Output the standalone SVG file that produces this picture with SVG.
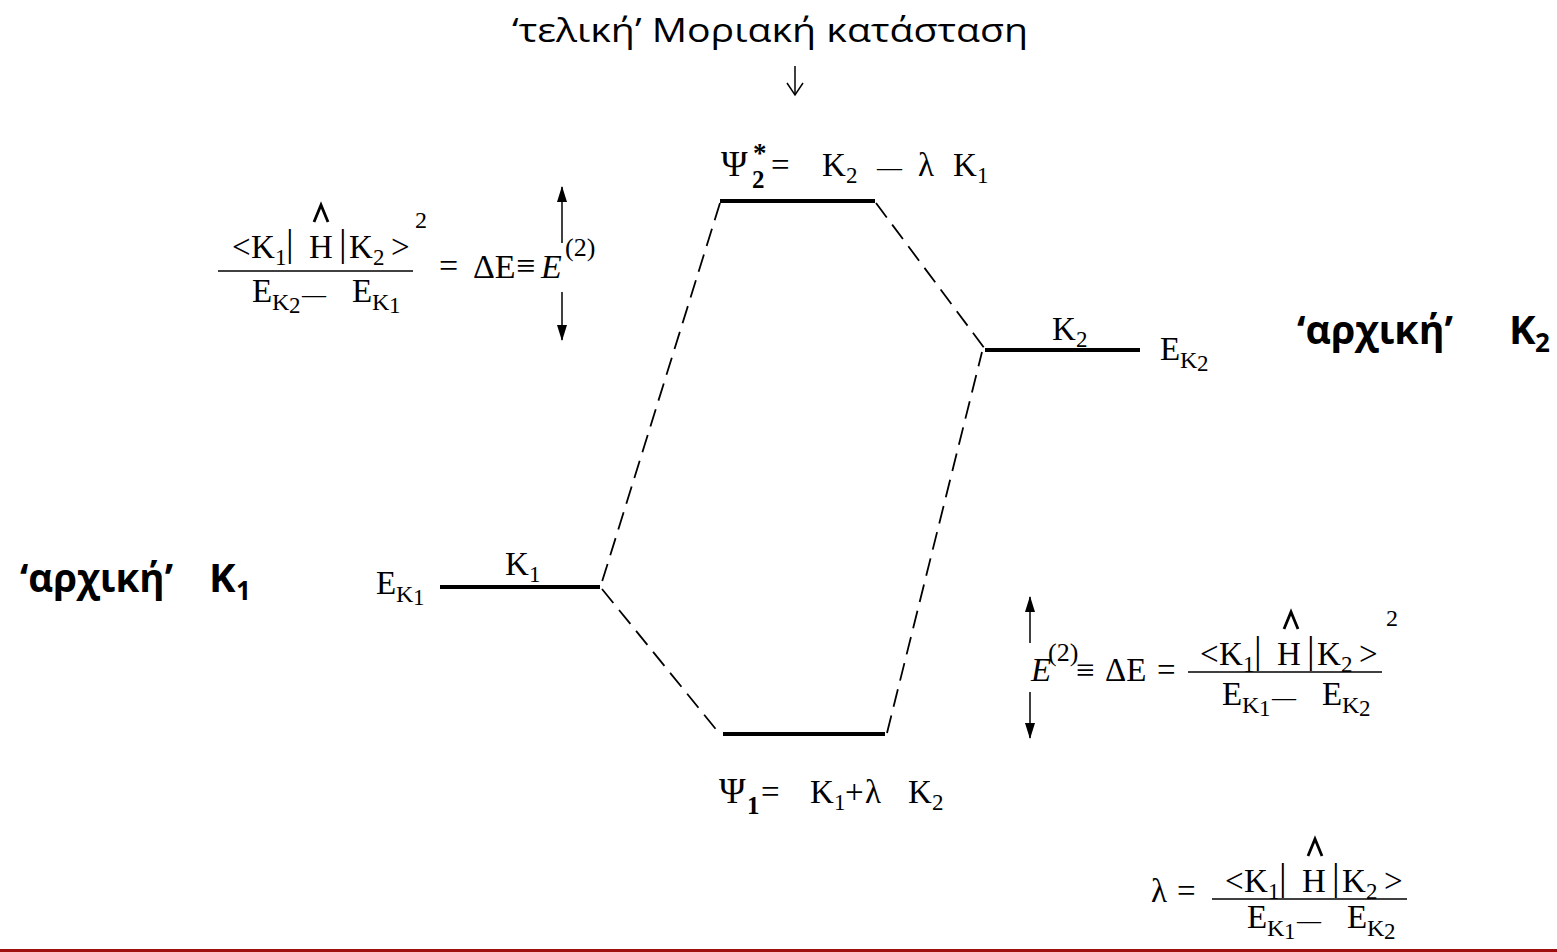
<svg xmlns="http://www.w3.org/2000/svg" width="1557" height="952" viewBox="0 0 1557 952">
<defs>
<style>
.m{font-family:"Liberation Serif","Times New Roman",serif;font-size:33px;fill:#000}
.s{font-size:24px}
.d{font-size:23px}
.bar{font-size:38px}
.b{font-weight:bold}
.it{font-style:italic}
.lab{font-family:"Open Sans","Noto Sans",sans-serif;fill:#000}
.big{font-size:40px;font-weight:bold}
.lev{stroke:#000;stroke-width:4;fill:none}
.dash{stroke:#000;stroke-width:1.8;stroke-dasharray:18 9;fill:none}
.ar{stroke:#000;stroke-width:1.5;fill:none}
.hat{stroke:#000;stroke-width:2.8;fill:none;stroke-linejoin:miter}
.fb{stroke:#000;stroke-width:1.5}
</style>
<marker id="ah" viewBox="0 0 16 10" refX="15" refY="5" markerWidth="16" markerHeight="10" markerUnits="userSpaceOnUse" orient="auto">
<path d="M0,0 L16,5 L0,10 z" fill="#000"/>
</marker>
</defs>
<rect width="1557" height="952" fill="#fff"/>

<g id="title">
<text class="lab" x="512" y="42" style="font-size:32px" textLength="516" lengthAdjust="spacingAndGlyphs">‘τελική’ Μοριακή κατάσταση</text>
</g>

<g id="connectors">
<line class="dash" x1="720" y1="203" x2="601" y2="585"/>
<line class="dash" x1="876" y1="203" x2="985" y2="349"/>
<line class="dash" x1="602" y1="589" x2="719" y2="733"/>
<line class="dash" x1="887" y1="733" x2="982" y2="352"/>
<line class="ar" x1="795" y1="66" x2="795" y2="94"/>
<polyline class="ar" points="787,83 795,95 803,83"/>
<line class="ar" x1="562" y1="243" x2="562" y2="187" marker-end="url(#ah)"/>
<line class="ar" x1="562" y1="292" x2="562" y2="340" marker-end="url(#ah)"/>
<line class="ar" x1="1030" y1="643" x2="1030" y2="597" marker-end="url(#ah)"/>
<line class="ar" x1="1030" y1="692" x2="1030" y2="738" marker-end="url(#ah)"/>
</g>

<g id="level-psi2">
<line class="lev" x1="720" y1="201" x2="875" y2="201"/>
<text class="m" x="721" y="176" style="font-size:36px">Ψ</text>
<text class="m b" x="753" y="162" style="font-size:27px">*</text>
<text class="m b" x="752" y="188" style="font-size:25px">2</text>
<text class="m" x="771" y="176">=</text>
<text class="m" x="822" y="176">K</text>
<text class="m d" x="846" y="183">2</text>
<text class="m" x="877" y="176" style="font-size:25px">—</text>
<text class="m" x="918" y="176">λ</text>
<text class="m" x="953" y="176">K</text>
<text class="m d" x="977" y="183">1</text>
</g>

<g id="level-k2">
<line class="lev" x1="985" y1="350" x2="1140" y2="350"/>
<text class="m" x="1052" y="340">K</text>
<text class="m d" x="1076" y="347">2</text>
<text class="m" x="1160" y="360">E</text>
<text class="m s" x="1180" y="368">K</text>
<text class="m d" x="1197" y="371">2</text>
</g>

<g id="label-k2">
<text class="lab big" x="1297" y="344" textLength="156" lengthAdjust="spacingAndGlyphs">‘αρχική’</text>
<text class="lab big" x="1509" y="344">K</text>
<text class="lab" x="1535" y="352" style="font-size:26px;font-weight:bold">2</text>
</g>

<g id="level-k1">
<line class="lev" x1="440" y1="587" x2="600" y2="587"/>
<text class="m" x="505" y="575">K</text>
<text class="m d" x="529" y="582">1</text>
<text class="m" x="376" y="594">E</text>
<text class="m s" x="396" y="602">K</text>
<text class="m d" x="413" y="605">1</text>
</g>

<g id="label-k1">
<text class="lab big" x="20" y="592" textLength="153" lengthAdjust="spacingAndGlyphs">‘αρχική’</text>
<text class="lab big" x="209" y="592">K</text>
<text class="lab" x="236" y="600" style="font-size:26px;font-weight:bold">1</text>
</g>

<g id="level-psi1">
<line class="lev" x1="723" y1="734" x2="885" y2="734"/>
<text class="m" x="719" y="803" style="font-size:36px">Ψ</text>
<text class="m b" x="747" y="814" style="font-size:25px">1</text>
<text class="m" x="761" y="803">=</text>
<text class="m" x="810" y="803">K</text>
<text class="m d" x="834" y="810">1</text>
<text class="m" x="845" y="803">+</text>
<text class="m" x="865" y="803">λ</text>
<text class="m" x="908" y="803">K</text>
<text class="m d" x="932" y="810">2</text>
</g>

<g id="formula-left">
<g transform="translate(232,258)">
<text class="m" x="0" y="0">&lt;</text>
<text class="m" x="19" y="0">K</text>
<text class="m d" x="43" y="7">1</text>
<text class="m bar" x="54" y="-2">|</text>
<text class="m" x="77" y="0">H</text>
<polyline class="hat" points="82,-36 89,-53 96,-36"/>
<text class="m bar" x="107" y="-2">|</text>
<text class="m" x="117" y="0">K</text>
<text class="m d" x="141" y="7">2</text>
<text class="m" x="159" y="0">&gt;</text>
<text class="m d" x="183" y="-30" style="font-size:24px">2</text>
</g>
<line class="fb" x1="218" y1="271" x2="413" y2="271"/>
<g transform="translate(252,302)">
<text class="m" x="0" y="0">E</text>
<text class="m s" x="20" y="8">K</text>
<text class="m d" x="37" y="11">2</text>
<text class="m" x="50" y="0" style="font-size:24px">—</text>
<text class="m" x="100" y="0">E</text>
<text class="m s" x="120" y="8">K</text>
<text class="m d" x="137" y="11">1</text>
</g>
<text class="m" x="439" y="277" style="font-size:34px">=</text>
<text class="m" x="473" y="278" style="font-size:34px">ΔE</text>
<text class="m" x="516" y="277" style="font-size:34px">≡</text>
<text class="m it" x="541" y="278" style="font-size:34px">E</text>
<text class="m" x="565" y="256" style="font-size:26px">(2)</text>
</g>

<g id="formula-right">
<text class="m it" x="1031" y="681">E</text>
<text class="m" x="1048" y="661" style="font-size:26px">(2)</text>
<text class="m" x="1076" y="681">≡</text>
<text class="m" x="1105" y="681">ΔE</text>
<text class="m" x="1157" y="681">=</text>
<g transform="translate(1200,665)">
<text class="m" x="0" y="0">&lt;</text>
<text class="m" x="19" y="0">K</text>
<text class="m d" x="43" y="7">1</text>
<text class="m bar" x="54" y="-2">|</text>
<text class="m" x="77" y="0">H</text>
<polyline class="hat" points="84,-36 91,-53 98,-36"/>
<text class="m bar" x="107" y="-2">|</text>
<text class="m" x="117" y="0">K</text>
<text class="m d" x="141" y="7">2</text>
<text class="m" x="159" y="0">&gt;</text>
<text class="m d" x="186" y="-39" style="font-size:24px">2</text>
</g>
<line class="fb" x1="1188" y1="672" x2="1382" y2="672"/>
<g transform="translate(1222,705)">
<text class="m" x="0" y="0">E</text>
<text class="m s" x="20" y="8">K</text>
<text class="m d" x="37" y="11">1</text>
<text class="m" x="50" y="0" style="font-size:24px">—</text>
<text class="m" x="100" y="0">E</text>
<text class="m s" x="120" y="8">K</text>
<text class="m d" x="137" y="11">2</text>
</g>
</g>

<g id="formula-lambda">
<text class="m" x="1151" y="902">λ</text>
<text class="m" x="1177" y="902">=</text>
<g transform="translate(1225,892)">
<text class="m" x="0" y="0">&lt;</text>
<text class="m" x="19" y="0">K</text>
<text class="m d" x="43" y="7">1</text>
<text class="m bar" x="54" y="-2">|</text>
<text class="m" x="77" y="0">H</text>
<polyline class="hat" points="83,-36 90,-53 97,-36"/>
<text class="m bar" x="107" y="-2">|</text>
<text class="m" x="117" y="0">K</text>
<text class="m d" x="141" y="7">2</text>
<text class="m" x="159" y="0">&gt;</text>
</g>
<line class="fb" x1="1212" y1="899" x2="1407" y2="899"/>
<g transform="translate(1247,928)">
<text class="m" x="0" y="0">E</text>
<text class="m s" x="20" y="8">K</text>
<text class="m d" x="37" y="11">1</text>
<text class="m" x="50" y="0" style="font-size:24px">—</text>
<text class="m" x="100" y="0">E</text>
<text class="m s" x="120" y="8">K</text>
<text class="m d" x="137" y="11">2</text>
</g>
</g>

<rect id="footer-line" x="0" y="949" width="1557" height="3" fill="#A00F0F"/>
</svg>
